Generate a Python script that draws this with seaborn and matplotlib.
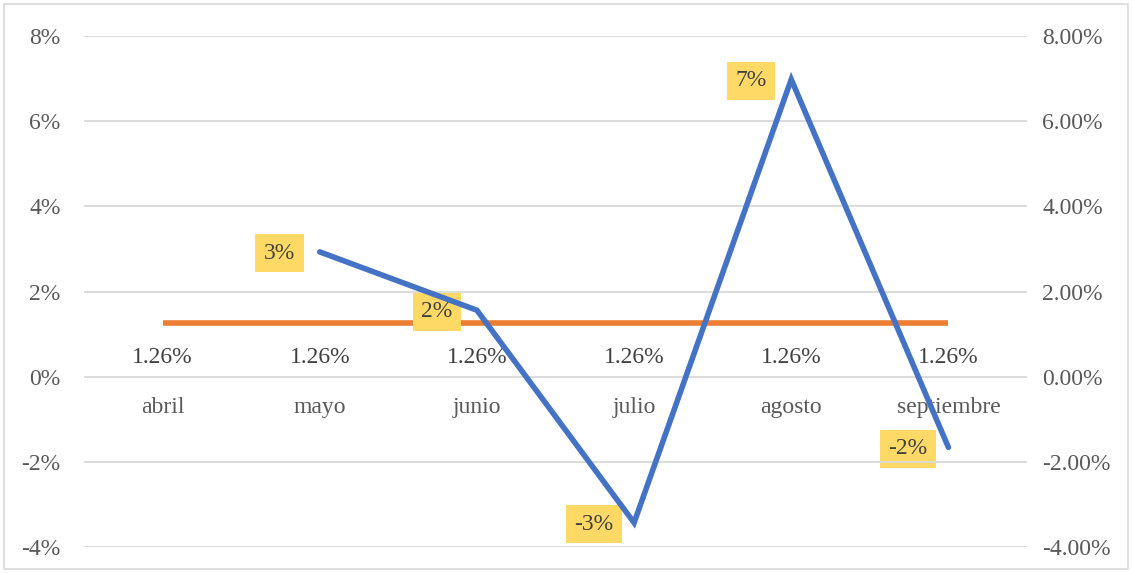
import numpy as np
import pandas as pd
import matplotlib
matplotlib.use("Agg")
import matplotlib.pyplot as plt
import seaborn as sns
from matplotlib.patches import Rectangle
from matplotlib.ticker import FuncFormatter

# datos
meses = ["abril", "mayo", "junio", "julio", "agosto", "septiembre"]
variacion = [np.nan, 2.93, 1.56, -3.43, 6.98, -1.66]
meta = [1.26, 1.26, 1.26, 1.26, 1.26, 1.26]
ticks_y = [-4, -2, 0, 2, 4, 6, 8]

df = pd.DataFrame({"pos": np.arange(len(meses)), "mes": meses,
                   "variacion": variacion, "meta": meta})

sns.set_theme(style="white")
plt.rcParams["font.family"] = ["Liberation Serif", "DejaVu Serif"]

gris = "#595959"
azul = "#4472C4"
naranja = "#ED7D31"
amarillo = "#FFD966"
fs = 17

fig = plt.figure(figsize=(11.32, 5.73), dpi=100)
ax = fig.add_axes([84 / 1132, 1 - 547 / 573, (1027 - 84) / 1132, (547 - 36) / 573])
ax2 = ax.twinx()

# lineas de cuadricula
for v in ticks_y:
    ax.axhline(v, color="#D9D9D9", lw=1.3, zorder=0)

sns.lineplot(data=df, x="pos", y="variacion", ax=ax, color=azul, lw=4,
             solid_capstyle="round", solid_joinstyle="miter", zorder=3)
sns.lineplot(data=df, x="pos", y="meta", ax=ax2, color=naranja, lw=4,
             solid_capstyle="butt", zorder=2)

for a in (ax, ax2):
    a.set_ylim(-4, 8)
    a.set_xlim(-0.5, len(meses) - 0.5)
    a.set_yticks(ticks_y)
    a.set_xticks([])
    a.set_xlabel("")
    a.set_ylabel("")
    for s in a.spines.values():
        s.set_visible(False)

ax.yaxis.set_major_formatter(FuncFormatter(lambda v, p: f"{v:.0f}%"))
ax2.yaxis.set_major_formatter(FuncFormatter(lambda v, p: f"{v:.2f}%"))
ax.tick_params(axis="y", length=0, pad=17, labelsize=fs, labelcolor=gris)
ax2.tick_params(axis="y", length=0, pad=11, labelsize=fs, labelcolor=gris)

# etiquetas de categoria sobre el eje 0
for i, m in enumerate(meses):
    ax.annotate(m, xy=(i, 0), xytext=(0, -22), textcoords="offset points",
                ha="center", va="center", fontsize=fs, color=gris, zorder=1)

# etiquetas de la meta
for i, v in enumerate(meta):
    ax2.annotate(f"{v:.2f}%", xy=(i, v), xytext=(0, -25), textcoords="offset points",
                 ha="center", va="center", fontsize=fs, color="#404040", zorder=1)

# etiquetas de la variacion
for i, v in enumerate(variacion):
    if np.isnan(v):
        continue
    ax2.annotate(f"{v:.0f}%", xy=(i, v), xytext=(-29, -1), textcoords="offset points",
                 ha="center", va="center", fontsize=fs, color="#404040", zorder=5,
                 bbox=dict(boxstyle="square,pad=0.36", fc=amarillo, ec="none"))

ax.set_zorder(ax2.get_zorder() + 1)
ax.patch.set_visible(False)

fig.patches.append(Rectangle((4 / 1132, 4 / 573), 1 - 8 / 1132, 1 - 8 / 573,
                             transform=fig.transFigure, fill=False,
                             ec="#D9D9D9", lw=1.2))

fig.savefig("out.png", dpi=100)
